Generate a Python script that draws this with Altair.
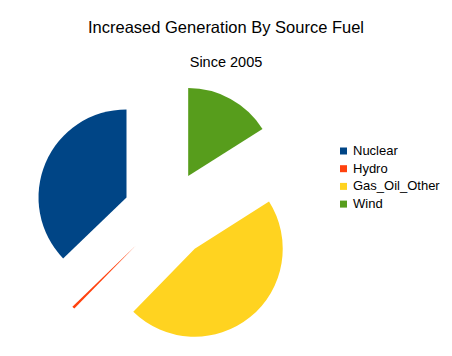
import altair as alt
import pandas as pd

# Data (legend order)
sources = ["Nuclear", "Hydro", "Gas_Oil_Other", "Wind"]
increase = [37.2, 0.5, 46.3, 16.0]
colors = ["#004586", "#ff420e", "#ffd320", "#579d1c"]
title_text = ["Increased Generation By Source Fuel"]
subtitle_text = ["Since 2005"]

df = pd.DataFrame({"source": sources, "increase": increase, "legend_order": list(range(len(sources)))})

CX, CY, R, EXPLODE = 159, 206.6, 88, 44
FONT = "Liberation Sans"

pie = (
    alt.Chart(df)
    .transform_window(
        cum="sum(increase)",
        sort=[alt.SortField("legend_order", order="descending")],
        frame=[None, 0],
    )
    .transform_joinaggregate(total="sum(increase)")
    .transform_calculate(
        t1="2*PI*(datum.cum - datum.increase)/datum.total",
        t2="2*PI*datum.cum/datum.total",
    )
    .transform_calculate(mid="(datum.t1 + datum.t2)/2")
    .transform_calculate(
        px=f"{CX} + {EXPLODE}*sin(datum.mid)",
        py=f"{CY} - {EXPLODE}*cos(datum.mid)",
    )
    .mark_arc(outerRadius=R, innerRadius=0, stroke=None)
    .encode(
        theta=alt.Theta("t1:Q", scale=None),
        theta2="t2:Q",
        x=alt.X("px:Q", scale=None, axis=None),
        y=alt.Y("py:Q", scale=None, axis=None),
        color=alt.Color(
            "source:N",
            scale=alt.Scale(domain=sources, range=colors),
            legend=alt.Legend(
                title=None,
                orient="none",
                legendX=329,
                legendY=136.5,
                symbolType="square",
                symbolSize=49,
                symbolStrokeWidth=0,
                labelFontSize=13,
                labelFont=FONT,
                labelColor="#000000",
                labelOffset=3,
                rowPadding=3.7,
                padding=0,
            ),
        ),
    )
)

title = (
    alt.Chart(pd.DataFrame({"t": title_text}))
    .mark_text(font=FONT, fontSize=16.5, color="#000000", baseline="alphabetic", align="center")
    .encode(text="t:N", x=alt.value(218), y=alt.value(24.7))
)
subtitle = (
    alt.Chart(pd.DataFrame({"t": subtitle_text}))
    .mark_text(font=FONT, fontSize=14.5, color="#000000", baseline="alphabetic", align="center")
    .encode(text="t:N", x=alt.value(218), y=alt.value(58.7))
)

chart = (
    alt.layer(pie, title, subtitle)
    .properties(width=436, height=340, padding=0, background="#ffffff")
    .configure_view(stroke=None)
)

chart.save("out.html", embed_options={"renderer": "svg", "actions": False})
